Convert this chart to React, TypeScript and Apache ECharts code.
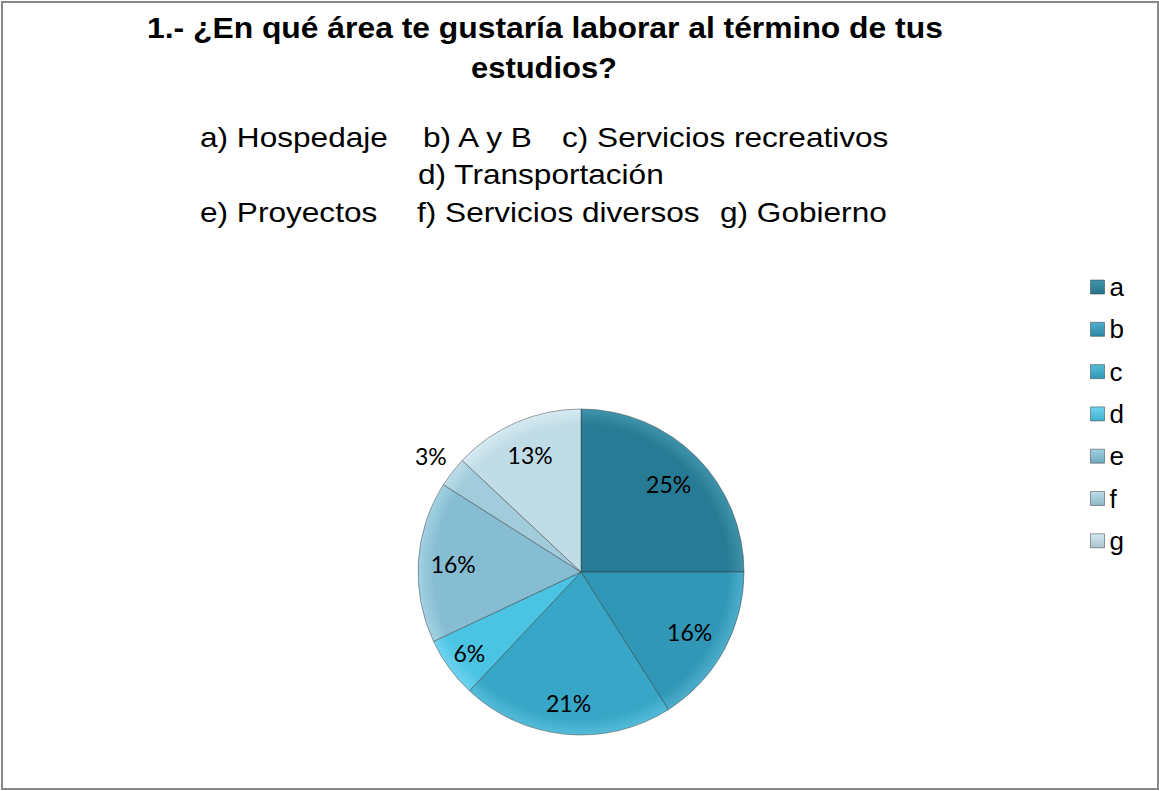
import React, { useEffect, useRef } from "react";
import * as echarts from "echarts";

const categories = ["a", "b", "c", "d", "e", "f", "g"];
const percents = [25, 16, 21, 6, 16, 3, 13];
const titleLines = ["1.- ¿En qué área te gustaría laborar al término de tus", "estudios?"];
const subtitleRow1 = ["a) Hospedaje", "b) A y B", "c) Servicios recreativos"];
const subtitleRow2 = ["d) Transportación"];
const subtitleRow3 = ["e) Proyectos", "f) Servicios diversos", "g) Gobierno"];

const sliceColors = ["#287b94", "#3097b7", "#37a6c7", "#4bc3e3", "#86bdd3", "#a2ccdb", "#c0dce7"];
const rimColors = ["#3f93ab", "#4eaecb", "#55bcd9", "#6fd4ef", "#a3d2e3", "#bddde9", "#d6eaf1"];
const legendColors = ["#27748b", "#2d8aa7", "#3298b5", "#3fb0cf", "#6fa8bd", "#8cb7c6", "#a9c4cd"];

const CX = 581;
const CY = 572;
const R = 163;
const labelRadii = [124, 124, 132, 138, 128, 190, 128];

const FONT = "Liberation Sans, Arial, sans-serif";
const SUB_SCALE = 1.17;

function measure(text: string, size: number, bold: boolean) {
  const c = document.createElement("canvas").getContext("2d")!;
  c.font = `${bold ? "bold " : ""}${size}px ${FONT}`;
  return c.measureText(text).width;
}

export default function App() {
  const ref = useRef<HTMLDivElement>(null);
  useEffect(() => {
    if (!ref.current) return;
    const chart = echarts.init(ref.current, null, { renderer: "svg" });
    const total = percents.reduce((s, v) => s + v, 0);
    const mids: number[] = [];
    let cum = 0;
    percents.forEach((v) => {
      mids.push(((cum + v / 2) / total) * Math.PI * 2);
      cum += v;
    });

    const data = categories.map((c, i) => ({
      name: c,
      value: percents[i],
      itemStyle: {
        color: {
          type: "radial",
          x: CX,
          y: CY,
          r: R,
          global: true,
          colorStops: [
            { offset: 0, color: sliceColors[i] },
            { offset: 0.9, color: sliceColors[i] },
            { offset: 1, color: rimColors[i] },
          ],
        },
      },
    }));

    const span = (text: string, x0: number, x1: number, y: number, size: number, bold: boolean) => {
      const w = measure(text, size, bold);
      return {
        type: "text",
        x: x0,
        y,
        scaleX: (x1 - x0) / w,
        style: {
          text,
          fontFamily: FONT,
          fontWeight: bold ? "bold" : "normal",
          fontSize: size,
          fill: "#000",
          align: "left",
          verticalAlign: "middle",
        },
      };
    };
    const sub = (text: string, x: number, y: number) => ({
      type: "text",
      x,
      y,
      scaleX: SUB_SCALE,
      style: {
        text,
        fontFamily: FONT,
        fontSize: 27,
        fill: "#000",
        align: "left",
        verticalAlign: "middle",
      },
    });

    const option: any = {
      animation: false,
      backgroundColor: "#ffffff",
      color: sliceColors,
      legend: {
        orient: "vertical",
        left: 1085,
        top: 269,
        itemWidth: 14,
        itemHeight: 14,
        itemGap: 16.3,
        icon: "rect",
        data: categories.map((c, i) => ({
          name: c,
          itemStyle: {
            color: {
              type: "linear",
              x: 0,
              y: 0,
              x2: 0,
              y2: 1,
              colorStops: [
                { offset: 0, color: rimColors[i] },
                { offset: 1, color: legendColors[i] },
              ],
            },
            borderColor: "rgba(40,40,40,0.45)",
            borderWidth: 1,
          },
        })),
        textStyle: {
          fontFamily: FONT,
          fontSize: 26,
          lineHeight: 26,
          color: "#000",
        },
      },
      series: [
        {
          type: "pie",
          center: [CX, CY],
          radius: R,
          startAngle: 90,
          clockwise: true,
          emphasis: { disabled: true },
          data,
          itemStyle: { borderColor: "rgba(50,50,50,0.45)", borderWidth: 1 },
          label: {
            show: true,
            position: "inside",
            formatter: "{c}%",
            fontFamily: "Lato",
            fontSize: 23,
            color: "#000",
          },
          labelLine: { show: false },
          labelLayout: (params: any) => {
            const i = params.dataIndex;
            const r = labelRadii[i];
            return {
              x: CX + r * Math.sin(mids[i]),
              y: CY - r * Math.cos(mids[i]),
              align: "center",
              verticalAlign: "middle",
            };
          },
        },
      ],
      graphic: [
        {
          type: "rect",
          shape: { x: 2, y: 2, width: 1156, height: 787 },
          style: { fill: "none", stroke: "#878787", lineWidth: 2 },
        },
        span(titleLines[0], 147, 943, 28, 29, true),
        span(titleLines[1], 471, 617, 68, 29, true),
        sub(subtitleRow1[0], 200, 137),
        sub(subtitleRow1[1], 423, 137),
        sub(subtitleRow1[2], 562, 137),
        sub(subtitleRow2[0], 418, 174),
        sub(subtitleRow3[0], 200, 212),
        sub(subtitleRow3[1], 417, 212),
        sub(subtitleRow3[2], 720, 212),
      ],
    };
    chart.setOption(option);
    return () => chart.dispose();
  }, []);
  return (
    <div
      ref={ref}
      style={{ position: "fixed", left: 0, top: 0, width: 1159, height: 791 }}
    />
  );
}
